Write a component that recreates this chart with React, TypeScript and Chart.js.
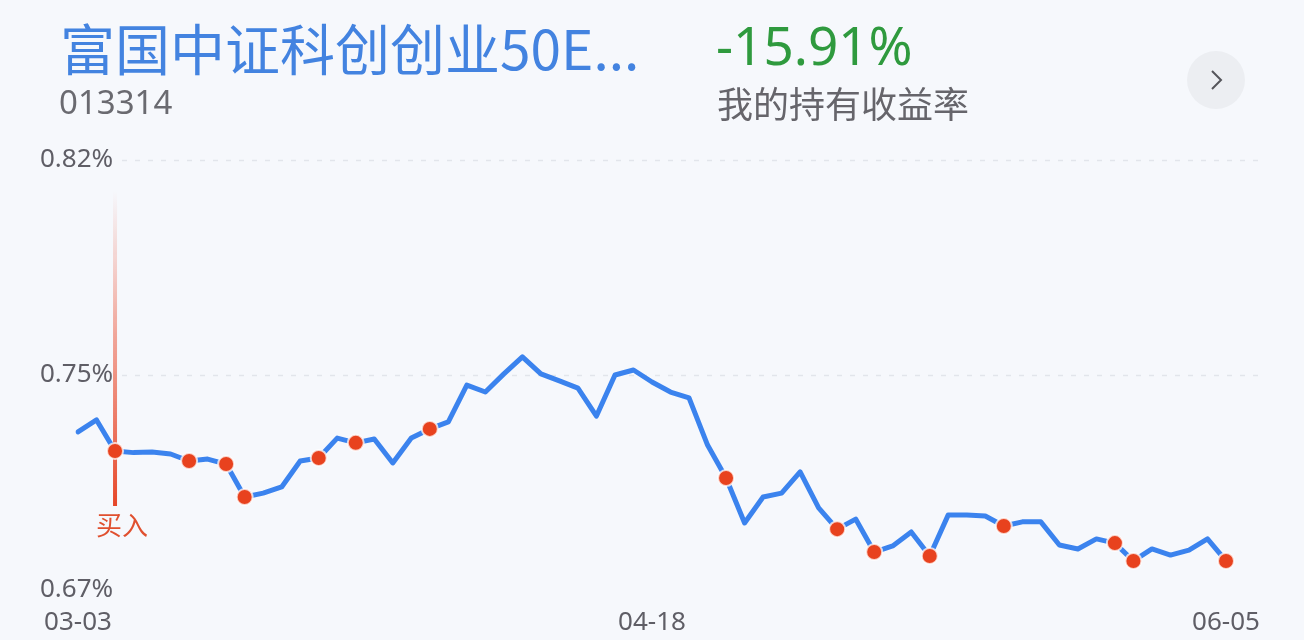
import { useEffect, useRef } from "react";
import { Chart, registerables } from "chart.js";

Chart.register(...registerables);

const CJK = "'Noto Sans CJK SC', 'Noto Sans', sans-serif";
const NUM = "'Noto Sans', 'Noto Sans CJK SC', sans-serif";
const BG = "#f6f8fc";
const BLUE = "#3b83ee";
const RED = "#e8421e";
const GREY = "#5f5e66";

// trading days, 2023-03-03 .. 2023-06-05
const dates = [
  "03-03", "03-06", "03-07", "03-08", "03-09", "03-10", "03-13", "03-14", "03-15", "03-16", "03-17",
  "03-20", "03-21", "03-22", "03-23", "03-24", "03-27", "03-28", "03-29", "03-30", "03-31",
  "04-03", "04-04", "04-06", "04-07", "04-10", "04-11", "04-12", "04-13", "04-14",
  "04-17", "04-18", "04-19", "04-20", "04-21", "04-24", "04-25", "04-26", "04-27", "04-28",
  "05-04", "05-05", "05-08", "05-09", "05-10", "05-11", "05-12", "05-15", "05-16", "05-17", "05-18", "05-19",
  "05-22", "05-23", "05-24", "05-25", "05-26", "05-29", "05-30", "05-31", "06-01", "06-02", "06-05",
];

// unit net value (%)
const nav = [
  0.7266, 0.7309, 0.7198, 0.7192, 0.7194, 0.7187, 0.7162, 0.7169, 0.7151, 0.7033, 0.7047,
  0.7069, 0.7162, 0.7173, 0.7244, 0.7227, 0.7241, 0.7155, 0.7244, 0.7277, 0.7302,
  0.7434, 0.7409, 0.7474, 0.7535, 0.7474, 0.7449, 0.7423, 0.7323, 0.747,
  0.7488, 0.7445, 0.7409, 0.7388, 0.7219, 0.7101, 0.694, 0.7033, 0.7047, 0.7123,
  0.6994, 0.6918, 0.6954, 0.6836, 0.6858, 0.6908, 0.6822, 0.6969, 0.6969, 0.6965, 0.6929, 0.6944,
  0.6944, 0.6861, 0.6847, 0.6883, 0.6868, 0.6804, 0.6847, 0.6825, 0.6843, 0.6883, 0.6804,
];

// days with a purchase (red dots)
const dotDates = [
  "03-07", "03-13", "03-15", "03-16", "03-22", "03-24", "03-30", "04-24",
  "05-05", "05-09", "05-12", "05-18", "05-26", "05-29", "06-05",
];
const buyDate = "03-07";

const xTickLabels = ["03-03", "04-18", "06-05"];
const yTickLabels = ["0.67%", "0.75%", "0.82%"];
const yMin = 0.67;
const yMax = 0.824;

const dashGrid = {
  id: "dashGrid",
  beforeDatasetsDraw(chart: any) {
    const { ctx, chartArea, scales } = chart;
    const y = scales.y;
    ctx.save();
    ctx.strokeStyle = "#e2e5eb";
    ctx.lineWidth = 1.5;
    ctx.setLineDash([5, 8]);
    y.ticks.slice(1).forEach((t: any) => {
      const py = Math.round(y.getPixelForValue(t.value)) + 0.5;
      ctx.beginPath();
      ctx.moveTo(chartArea.left + 44, py);
      ctx.lineTo(chartArea.right + 34, py);
      ctx.stroke();
    });
    ctx.restore();
  },
};

const buyMarker = {
  id: "buyMarker",
  beforeDatasetsDraw(chart: any) {
    const { ctx, chartArea, scales } = chart;
    const i = dates.indexOf(buyDate);
    const px = scales.x.getPixelForValue(i);
    const top = chartArea.top + 30;
    const bottom = scales.y.getPixelForValue(nav[i]) + 55;
    const g = ctx.createLinearGradient(0, top, 0, bottom);
    g.addColorStop(0, "rgba(240,120,100,0)");
    g.addColorStop(0.45, "rgba(236,100,75,0.55)");
    g.addColorStop(1, "rgba(230,70,40,1)");
    ctx.save();
    ctx.strokeStyle = g;
    ctx.lineWidth = 4;
    ctx.beginPath();
    ctx.moveTo(px, top);
    ctx.lineTo(px, bottom);
    ctx.stroke();
    ctx.fillStyle = "#e0502f";
    ctx.font = `26px ${CJK}`;
    ctx.textAlign = "center";
    ctx.textBaseline = "middle";
    ctx.fillText("买入", px + 7, bottom + 19);
    ctx.restore();
  },
};

function NavChart() {
  const ref = useRef<HTMLCanvasElement>(null);
  useEffect(() => {
    if (!ref.current) return;
    const chart = new Chart(ref.current, {
      type: "line",
      data: {
        labels: dates,
        datasets: [
          {
            label: "买入",
            data: dates.map((d, i) => (dotDates.includes(d) ? nav[i] : null)),
            showLine: false,
            pointRadius: 8,
            pointBackgroundColor: RED,
            pointBorderColor: "rgba(255,255,255,0.75)",
            pointBorderWidth: 2,
          },
          {
            label: "净值",
            data: nav,
            borderColor: BLUE,
            borderWidth: 5,
            borderJoinStyle: "round",
            borderCapStyle: "round",
            pointRadius: 0,
            tension: 0,
            fill: false,
          },
        ],
      },
      options: {
        animation: false,
        responsive: false,
        layout: { padding: { left: 40, right: 78, top: 160, bottom: 0 } },
        plugins: { legend: { display: false }, tooltip: { enabled: false } },
        scales: {
          x: {
            grid: { display: false, drawTicks: false },
            border: { display: false },
            afterFit: (s: any) => { s.height = 50; },
            ticks: {
              autoSkip: false,
              maxRotation: 0,
              padding: 17,
              color: GREY,
              font: { family: NUM, size: 26 },
              callback: (_v: any, i: number) => (xTickLabels.includes(dates[i]) ? dates[i] : ""),
            },
          },
          y: {
            min: yMin,
            max: yMax,
            grid: { display: false, drawTicks: false },
            border: { display: false },
            afterFit: (s: any) => { s.width = 38; },
            afterBuildTicks: (s: any) => {
              s.ticks = [yMin, (yMin + yMax) / 2, yMax].map((value) => ({ value }));
            },
            ticks: {
              mirror: true,
              padding: -38,
              color: GREY,
              font: { family: NUM, size: 26 },
              callback: (_v: any, i: number) => yTickLabels[i],
            },
          },
        },
      },
      plugins: [dashGrid, buyMarker],
    });
    return () => chart.destroy();
  }, []);
  return <canvas ref={ref} width={1304} height={640} style={{ position: "absolute", left: 0, top: 0 }} />;
}

export default function App() {
  return (
    <div style={{ position: "absolute", left: 0, top: 0, width: 1304, height: 640, overflow: "hidden", background: BG }}>
      <NavChart />
      <div style={{ position: "absolute", left: 60, top: 13, fontFamily: CJK, fontSize: 55, lineHeight: "66px", color: "#4383e0", whiteSpace: "nowrap" }}>
        富国中证科创创业50E...
      </div>
      <div style={{ position: "absolute", left: 59, top: 81, fontFamily: NUM, fontSize: 33, lineHeight: "42px", color: "#6a6a70" }}>
        013314
      </div>
      <div style={{ position: "absolute", left: 716, top: 12, fontFamily: NUM, fontSize: 53, lineHeight: "66px", color: "#2f9a3e" }}>
        -15.91%
      </div>
      <div style={{ position: "absolute", left: 717, top: 80, fontFamily: CJK, fontSize: 36, lineHeight: "44px", color: "#66656b" }}>
        我的持有收益率
      </div>
      <div style={{ position: "absolute", left: 1187, top: 51, width: 58, height: 58, borderRadius: "50%", background: "#eceef2" }}>
        <svg width={58} height={58} style={{ display: "block" }}>
          <polyline points="25,20 34,29 25,38" fill="none" stroke="#55555b" strokeWidth={2} />
        </svg>
      </div>
    </div>
  );
}
